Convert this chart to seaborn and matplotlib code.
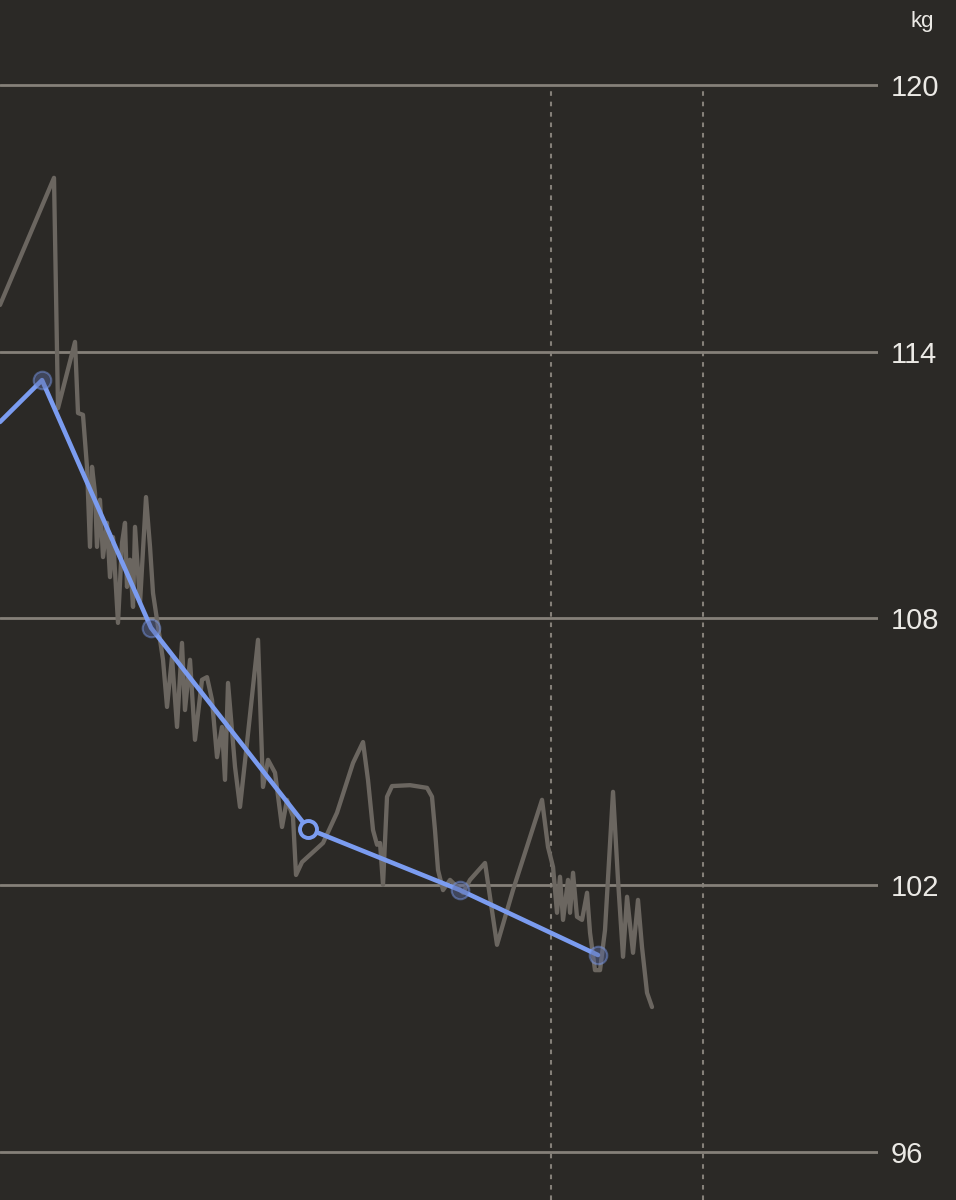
import matplotlib
matplotlib.use("Agg")
import matplotlib.pyplot as plt
import seaborn as sns
import pandas as pd

# Colours
bg = "#2b2926"
grid_color = "#858079"
raw_color = "#6b6660"
avg_color = "#7b9cf0"
text_color = "#ebe9e5"

sns.set_style("dark", {"axes.facecolor": bg, "figure.facecolor": bg})
plt.rcParams["font.family"] = ["Liberation Sans", "DejaVu Sans"]

# Daily weigh-ins (day index, kg)
days = [0, 10.64, 11.43, 14.78, 15.37, 16.35, 17.14, 17.73, 18.13, 18.72,
        19.11, 19.70, 20.30, 21.08, 21.67, 22.27, 23.25, 24.04, 24.63, 25.02,
        25.62, 26.21, 26.60, 27.59, 28.77, 29.56, 30.15, 30.94, 32.12, 32.91,
        33.89, 34.88, 35.86, 36.45, 37.44, 38.42, 39.80, 40.79, 41.77, 42.76,
        43.74, 44.33, 44.93, 46.31, 47.29, 48.67, 50.84, 51.82, 52.81, 54.19,
        55.57, 56.55, 57.73, 58.33, 59.51, 63.65, 66.40, 69.56, 71.53, 72.51,
        73.50, 74.29, 74.88, 75.47, 76.26, 77.24, 80.79, 84.14, 85.12, 85.71,
        86.31, 87.29, 88.67, 91.23, 92.61, 95.57, 97.93, 101.08, 106.80, 107.98,
        108.97, 109.75, 110.34, 110.94, 111.92, 112.32, 112.91, 113.69, 114.68, 115.67,
        116.26, 117.24, 118.23, 119.21, 120.79, 121.77, 122.76, 123.55, 124.73, 125.71,
        126.50, 127.49, 128.47]
weight = [115.05, 117.91, 112.73, 114.22, 112.62, 112.58, 111.41, 109.61, 111.41, 110.82,
          109.61, 110.67, 109.38, 110.15, 108.93, 109.83, 107.90, 109.70, 110.15, 108.71,
          109.32, 108.26, 110.06, 108.35, 110.73, 109.61, 108.57, 107.97, 107.07, 106.01,
          107.13, 105.56, 107.45, 105.94, 107.07, 105.27, 106.62, 106.68, 106.17, 104.88,
          105.56, 104.37, 106.55, 104.66, 103.76, 105.20, 107.52, 104.21, 104.82, 104.53,
          103.31, 103.92, 103.54, 102.23, 102.52, 102.95, 103.63, 104.75, 105.22, 104.37,
          103.24, 102.91, 102.95, 102.01, 103.99, 104.23, 104.25, 104.19, 103.99, 103.24,
          102.34, 101.89, 102.12, 101.83, 102.12, 102.50, 100.66, 101.89, 103.92, 102.86,
          102.41, 101.38, 102.19, 101.22, 102.12, 101.38, 102.28, 101.29, 101.22, 101.83,
          100.93, 100.09, 100.09, 100.99, 104.10, 102.12, 100.39, 101.74, 100.48, 101.67,
          100.61, 99.58, 99.26]

# Monthly averages
avg_days = [0, 8.28, 29.75, 60.69, 90.64, 117.83]
avg_weight = [112.42, 113.36, 107.79, 103.27, 101.89, 100.43]
selected = 3

y_ticks = [96, 102, 108, 114, 120]
month_marks = [108.6, 138.5]

raw = pd.DataFrame({"day": days, "kg": weight})
avg = pd.DataFrame({"day": avg_days, "kg": avg_weight})

fig = plt.figure(figsize=(9.56, 12), dpi=100)
ax = fig.add_axes([0, 0, 878 / 956, 1])
ax.set_xlim(0, 173.0)
ax.set_ylim(94.92, 121.91)

# Horizontal grid
for t in y_ticks:
    ax.axhline(t, color=grid_color, lw=2.0, zorder=1)

# Month separators
ax.vlines(month_marks, 94.92, 120, colors=grid_color, lw=1.5,
          linestyles=(0, (2.2, 2.8)), zorder=1)

sns.lineplot(data=raw, x="day", y="kg", ax=ax, color=raw_color, lw=3.1,
             estimator=None, sort=False, zorder=2,
             solid_joinstyle="round", solid_capstyle="round")
sns.lineplot(data=avg, x="day", y="kg", ax=ax, color=avg_color, lw=3.3,
             estimator=None, sort=False, zorder=3,
             solid_joinstyle="round", solid_capstyle="round")

faded = avg.drop(index=[0, selected])
sns.scatterplot(data=faded, x="day", y="kg", ax=ax, s=160, color="#5b6aa0",
                edgecolor=avg_color, linewidth=1.5, alpha=0.45, zorder=4)
sns.scatterplot(data=avg.iloc[[selected]], x="day", y="kg", ax=ax, s=150,
                color=bg, edgecolor=avg_color, linewidth=2.8, zorder=5)

ax.yaxis.tick_right()
ax.set_yticks(y_ticks)
ax.set_yticklabels([str(t) for t in y_ticks])
ax.tick_params(axis="y", length=0, pad=9, labelsize=21, labelcolor=text_color)
ax.set_xticks([])
ax.set_xlabel("")
ax.set_ylabel("")
ax.grid(False)
for s in ax.spines.values():
    s.set_visible(False)

fig.text(922 / 956, 1 - 22 / 1200, "kg", ha="center", va="center",
         fontsize=16, color=text_color)

fig.savefig("out.png", dpi=100, facecolor=bg)
